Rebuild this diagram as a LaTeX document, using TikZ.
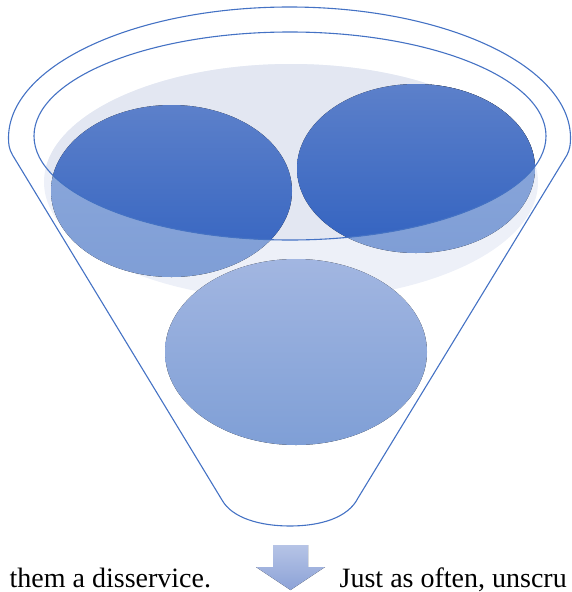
\documentclass[tikz,border=0pt]{standalone}
\usepackage{fontspec}
\setmainfont{Liberation Serif}
\definecolor{fnlLine}{HTML}{4472C4}
\definecolor{bgOut}{HTML}{EDF0F8}
\definecolor{bgIn}{HTML}{E3E7F2}
\definecolor{lightTop}{HTML}{8EAADC}
\definecolor{lightBot}{HTML}{7F9ED6}
\definecolor{darkTop}{HTML}{5C80CA}
\definecolor{darkBot}{HTML}{3262C0}
\definecolor{lowTop}{HTML}{A2B6E1}
\definecolor{lowBot}{HTML}{7F9FD6}
\definecolor{arrTop}{HTML}{B6C4E6}
\definecolor{arrBot}{HTML}{8CA2D7}
\tikzset{
  funnelline/.style={draw=fnlLine, line width=1.1pt, line join=round},
  lightcircle/.style={top color=lightTop, bottom color=lightBot},
  darkcircle/.style={top color=darkTop, bottom color=darkBot},
  bodytext/.style={inner sep=0pt, anchor=base west, font=\fontsize{28}{33}\selectfont, text=black}
}
\begin{document}
\begin{tikzpicture}[x=1pt,y=-1pt]
\useasboundingbox (0,0) rectangle (571,592);
% background disc
\fill[bgOut] (291,182) ellipse [x radius=247, y radius=118];
% upper circles (light part)
\fill[lightcircle] (171.5,191) ellipse [x radius=120.5, y radius=86];
\fill[lightcircle] (416,168.5) ellipse [x radius=119, y radius=84.5];
% parts inside the funnel mouth
\begin{scope}
  \clip (290,136) ellipse [x radius=256, y radius=104];
  \fill[bgIn] (291,182) ellipse [x radius=247, y radius=118];
  \fill[darkcircle] (171.5,191) ellipse [x radius=120.5, y radius=86];
  \fill[darkcircle] (416,168.5) ellipse [x radius=119, y radius=84.5];
\end{scope}
% lower circle
\fill[top color=lowTop, bottom color=lowBot] (296,352) ellipse [x radius=131, y radius=93];
% funnel outline
\draw[funnelline] (290,136) ellipse [x radius=256, y radius=104];
\draw[funnelline] (222,500) -- (12.5,155)
  .. controls (9,149) and (8.5,144) .. (8.5,138)
  .. controls (8.5,65.65) and (134.3,7) .. (289.5,7)
  .. controls (444.7,7) and (570.5,65.65) .. (570.5,138)
  .. controls (570.5,144) and (570,149) .. (567,155)
  -- (358,498)
  .. controls (348,518) and (320,526) .. (290,526)
  .. controls (260,526) and (232,518) .. cycle;
% arrow
\fill[top color=arrTop, bottom color=arrBot]
  (273,545) -- (308,545) -- (308,567) -- (325,567) -- (290.5,590) -- (256,567) -- (273,567) -- cycle;
% texts
\node[bodytext] (left) at (9.5,587) {them a disservice.};
\node[bodytext] (right) at (339.5,587) {Just as often, unscru};
\end{tikzpicture}
\end{document}
